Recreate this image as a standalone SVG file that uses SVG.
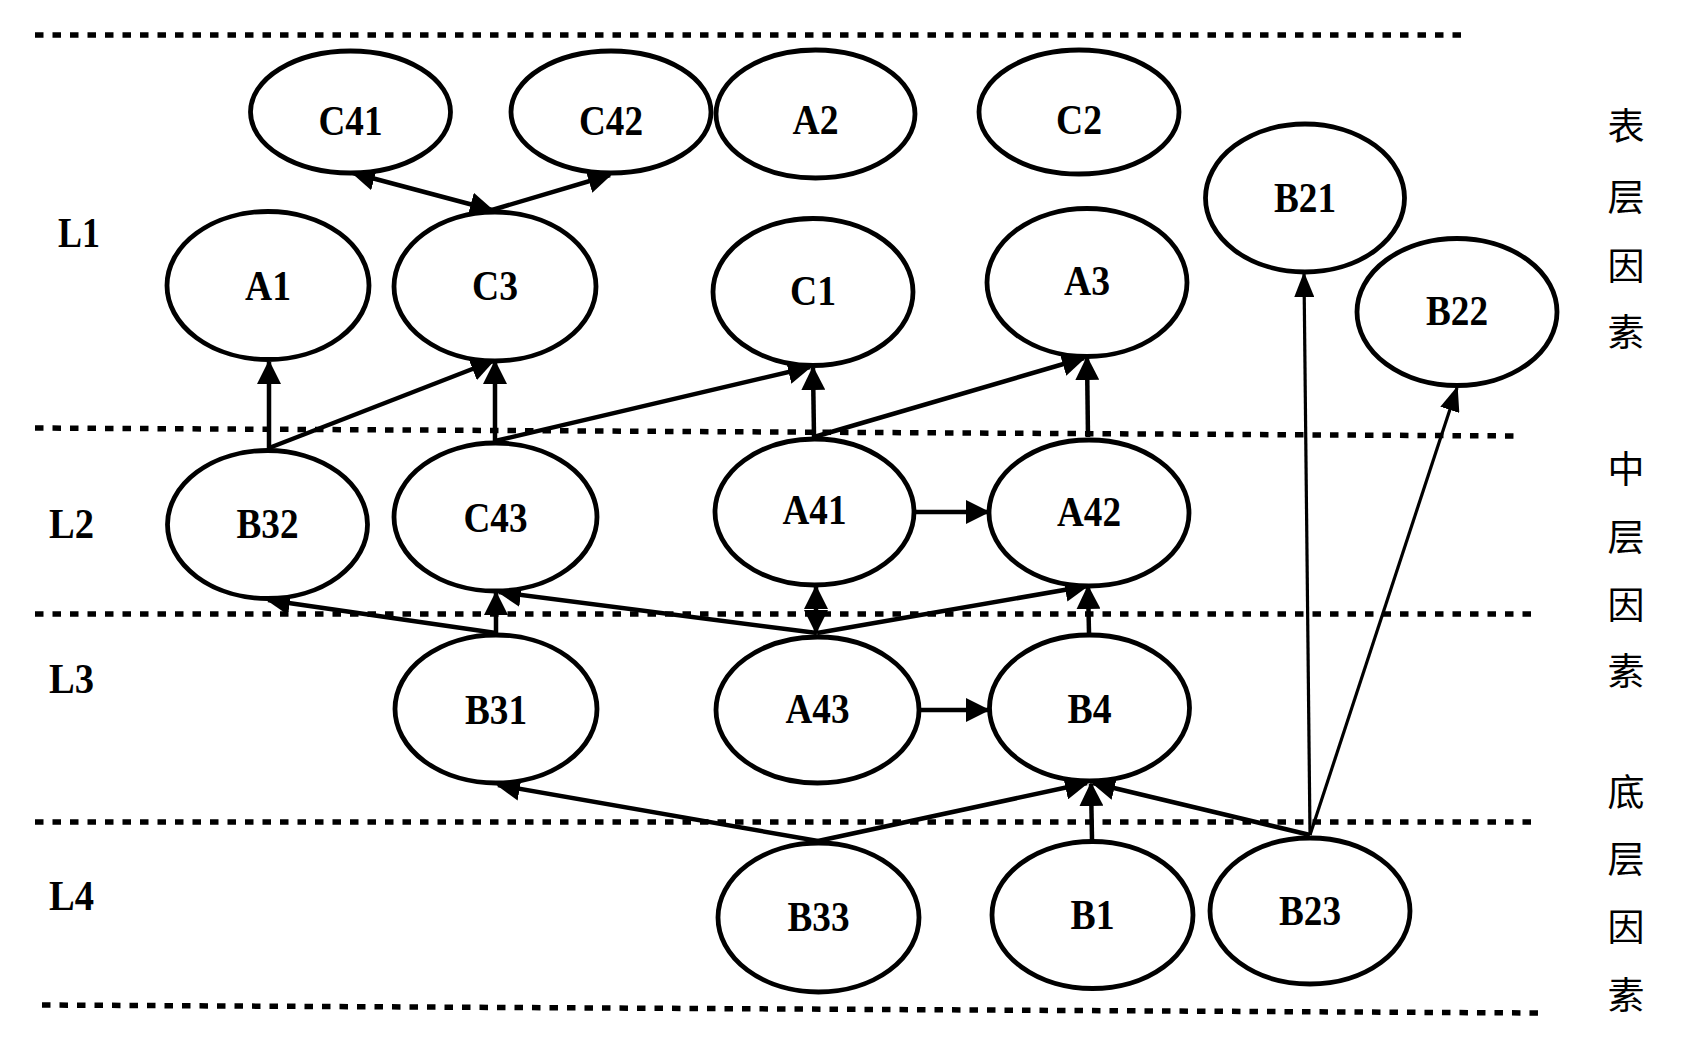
<svg xmlns="http://www.w3.org/2000/svg" width="1685" height="1043" viewBox="0 0 1685 1043">
<style>
.node ellipse{fill:#fff;stroke:#000;stroke-width:4.8}
.lbl{font-family:"Liberation Serif","Times New Roman",serif;font-weight:bold;font-size:43px;fill:#000;text-anchor:middle}
.lay{font-family:"Liberation Serif","Times New Roman",serif;font-weight:bold;font-size:42px;fill:#000}
.cjk{font-family:"Noto Sans CJK SC",sans-serif;font-size:37px;fill:#000;text-anchor:middle;dominant-baseline:central}
.dash{stroke:#000;stroke-width:5.5;stroke-dasharray:8.5 9;fill:none}
.e{stroke:#000;stroke-width:4.5;fill:none;marker-end:url(#ah)}
.e2{stroke:#000;stroke-width:4.5;fill:none;marker-end:url(#ah);marker-start:url(#ah)}
.t{stroke:#000;stroke-width:3.2;fill:none;marker-end:url(#aht)}
</style>
<defs>
<marker id="ah" viewBox="0 0 24 24" refX="22" refY="12" markerWidth="24" markerHeight="24" markerUnits="userSpaceOnUse" orient="auto-start-reverse"><path d="M0,0 L24,12 L0,24 Z" fill="#000"/></marker>
<marker id="aht" viewBox="0 0 25 20" refX="23" refY="10" markerWidth="25" markerHeight="20" markerUnits="userSpaceOnUse" orient="auto"><path d="M0,0 L25,10 L0,20 Z" fill="#000"/></marker>
</defs>
<rect width="1685" height="1043" fill="#fff"/>
<g id="layers">
<line class="dash" x1="35" y1="35" x2="1468" y2="35"/>
<line class="dash" x1="35" y1="428" x2="1521" y2="436"/>
<line class="dash" x1="35" y1="614" x2="1538" y2="614"/>
<line class="dash" x1="35" y1="822" x2="1538" y2="822"/>
<line class="dash" x1="42" y1="1005" x2="1538" y2="1013"/>
<text class="lay" x="58" y="247" textLength="42" lengthAdjust="spacingAndGlyphs">L1</text>
<text class="lay" x="49" y="538" textLength="45" lengthAdjust="spacingAndGlyphs">L2</text>
<text class="lay" x="49" y="693" textLength="45" lengthAdjust="spacingAndGlyphs">L3</text>
<text class="lay" x="49" y="910" textLength="45" lengthAdjust="spacingAndGlyphs">L4</text>
<text class="cjk" x="1626" y="124">表</text>
<text class="cjk" x="1626" y="195">层</text>
<text class="cjk" x="1626" y="264">因</text>
<text class="cjk" x="1626" y="330">素</text>
<text class="cjk" x="1626" y="467">中</text>
<text class="cjk" x="1626" y="535">层</text>
<text class="cjk" x="1626" y="603">因</text>
<text class="cjk" x="1626" y="669">素</text>
<text class="cjk" x="1626" y="790">底</text>
<text class="cjk" x="1626" y="857">层</text>
<text class="cjk" x="1626" y="925">因</text>
<text class="cjk" x="1626" y="993">素</text>
</g>
<g id="connectors">
<line class="e2" x1="353" y1="173" x2="492" y2="210"/>
<line class="e" x1="492" y1="210" x2="610" y2="175"/>
<line class="e" x1="269" y1="448" x2="269" y2="362"/>
<line class="e" x1="269" y1="448" x2="493" y2="361"/>
<line class="e" x1="495" y1="441" x2="495" y2="362"/>
<line class="e" x1="495" y1="441" x2="810" y2="367"/>
<line class="e" x1="814" y1="437" x2="813" y2="368"/>
<line class="e" x1="814" y1="437" x2="1084" y2="358"/>
<line class="e" x1="1088" y1="437" x2="1087" y2="358"/>
<line class="e" x1="916" y1="512" x2="988" y2="512"/>
<line class="e2" x1="816" y1="587" x2="816" y2="632"/>
<line class="e" x1="817" y1="633" x2="499" y2="592"/>
<line class="e" x1="817" y1="633" x2="1087" y2="586"/>
<line class="e" x1="496" y1="633" x2="268" y2="600"/>
<line class="e" x1="496" y1="633" x2="496" y2="593"/>
<line class="e" x1="1089" y1="633" x2="1088" y2="587"/>
<line class="e" x1="921" y1="710" x2="988" y2="710"/>
<line class="e" x1="818" y1="841" x2="498" y2="785"/>
<line class="e" x1="818" y1="841" x2="1087" y2="783"/>
<line class="e" x1="1092" y1="840" x2="1091" y2="784"/>
<line class="e" x1="1310" y1="835" x2="1093" y2="783"/>
<line class="t" x1="1310" y1="835" x2="1304" y2="274"/>
<line class="t" x1="1310" y1="835" x2="1457" y2="388"/>
</g>
<g id="C41" class="node"><ellipse cx="350.5" cy="112" rx="100" ry="61"/><text class="lbl" x="350.5" y="135" textLength="64" lengthAdjust="spacingAndGlyphs">C41</text></g>
<g id="C42" class="node"><ellipse cx="611" cy="112" rx="100" ry="61"/><text class="lbl" x="611" y="135" textLength="64" lengthAdjust="spacingAndGlyphs">C42</text></g>
<g id="A2" class="node"><ellipse cx="815.5" cy="114" rx="99.5" ry="64"/><text class="lbl" x="815.5" y="134" textLength="46" lengthAdjust="spacingAndGlyphs">A2</text></g>
<g id="C2" class="node"><ellipse cx="1079" cy="112" rx="100" ry="62"/><text class="lbl" x="1079" y="134" textLength="46" lengthAdjust="spacingAndGlyphs">C2</text></g>
<g id="B21" class="node"><ellipse cx="1305" cy="198" rx="99.5" ry="74"/><text class="lbl" x="1305" y="212" textLength="62" lengthAdjust="spacingAndGlyphs">B21</text></g>
<g id="A1" class="node"><ellipse cx="268" cy="285.5" rx="101" ry="74"/><text class="lbl" x="268" y="300" textLength="46" lengthAdjust="spacingAndGlyphs">A1</text></g>
<g id="C3" class="node"><ellipse cx="495" cy="286.5" rx="101" ry="74.5"/><text class="lbl" x="495" y="300" textLength="46" lengthAdjust="spacingAndGlyphs">C3</text></g>
<g id="C1" class="node"><ellipse cx="813" cy="292" rx="100" ry="73.5"/><text class="lbl" x="813" y="305" textLength="46" lengthAdjust="spacingAndGlyphs">C1</text></g>
<g id="A3" class="node"><ellipse cx="1087" cy="282.5" rx="100" ry="74"/><text class="lbl" x="1087" y="295" textLength="46" lengthAdjust="spacingAndGlyphs">A3</text></g>
<g id="B22" class="node"><ellipse cx="1457" cy="312" rx="100" ry="73.5"/><text class="lbl" x="1457" y="325" textLength="62" lengthAdjust="spacingAndGlyphs">B22</text></g>
<g id="B32" class="node"><ellipse cx="267.5" cy="524.5" rx="100" ry="74"/><text class="lbl" x="267.5" y="538" textLength="62" lengthAdjust="spacingAndGlyphs">B32</text></g>
<g id="C43" class="node"><ellipse cx="495.5" cy="517" rx="101.5" ry="74"/><text class="lbl" x="495.5" y="532" textLength="64" lengthAdjust="spacingAndGlyphs">C43</text></g>
<g id="A41" class="node"><ellipse cx="814.5" cy="512" rx="99.5" ry="73"/><text class="lbl" x="814.5" y="524" textLength="64" lengthAdjust="spacingAndGlyphs">A41</text></g>
<g id="A42" class="node"><ellipse cx="1089" cy="513" rx="100" ry="73"/><text class="lbl" x="1089" y="526" textLength="64" lengthAdjust="spacingAndGlyphs">A42</text></g>
<g id="B31" class="node"><ellipse cx="496" cy="709" rx="101" ry="74"/><text class="lbl" x="496" y="724" textLength="62" lengthAdjust="spacingAndGlyphs">B31</text></g>
<g id="A43" class="node"><ellipse cx="817.5" cy="710" rx="101.5" ry="73"/><text class="lbl" x="817.5" y="723" textLength="64" lengthAdjust="spacingAndGlyphs">A43</text></g>
<g id="B4" class="node"><ellipse cx="1089.5" cy="708" rx="100" ry="73"/><text class="lbl" x="1089.5" y="723" textLength="44" lengthAdjust="spacingAndGlyphs">B4</text></g>
<g id="B33" class="node"><ellipse cx="818.5" cy="917.5" rx="100.5" ry="74.5"/><text class="lbl" x="818.5" y="931" textLength="62" lengthAdjust="spacingAndGlyphs">B33</text></g>
<g id="B1" class="node"><ellipse cx="1092.5" cy="915" rx="100.5" ry="73.5"/><text class="lbl" x="1092.5" y="929" textLength="44" lengthAdjust="spacingAndGlyphs">B1</text></g>
<g id="B23" class="node"><ellipse cx="1310" cy="911" rx="100" ry="73"/><text class="lbl" x="1310" y="925" textLength="62" lengthAdjust="spacingAndGlyphs">B23</text></g>
</svg>
